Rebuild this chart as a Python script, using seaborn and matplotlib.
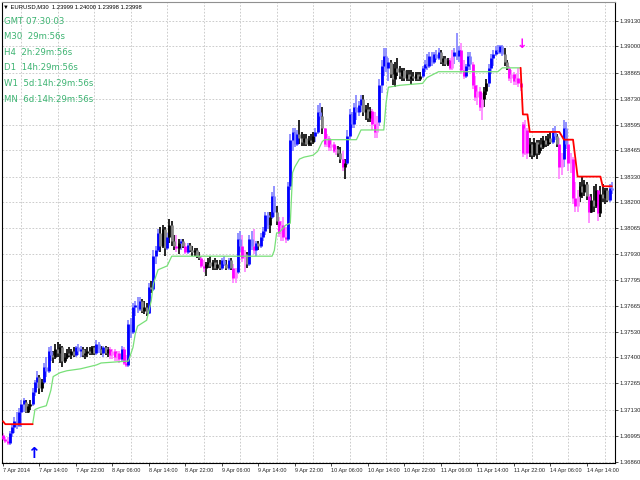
import numpy as np
import pandas as pd
import matplotlib
matplotlib.use("Agg")
import matplotlib.pyplot as plt
from matplotlib import font_manager as fm
import seaborn as sns

# EURUSD M30 bars, 7 Apr 2014 06:00 .. 14 Apr 19:30 (weekend bars skipped)
opens = [
    1.3700, 1.3698, 1.3697, 1.3696, 1.3701, 1.3704, 1.3707, 1.3705, 1.3712, 1.3716,
    1.3717, 1.3712, 1.3715, 1.3716, 1.3722, 1.3727, 1.3730, 1.3724, 1.3727, 1.3735,
    1.3733, 1.3743, 1.3741, 1.3740, 1.3744, 1.3742, 1.3745, 1.3738, 1.3740, 1.3742,
    1.3741, 1.3743, 1.3741, 1.3745, 1.3743, 1.3744, 1.3741, 1.3742, 1.3743, 1.3742,
    1.3745, 1.3742, 1.3747, 1.3744, 1.3742, 1.3745, 1.3742, 1.3744, 1.3741, 1.3743,
    1.3740, 1.3742, 1.3739, 1.3744, 1.3737, 1.3736, 1.3757, 1.3753, 1.3766, 1.3767,
    1.3765, 1.3769, 1.3764, 1.3766, 1.3763, 1.3776, 1.3775, 1.3792, 1.3795, 1.3804,
    1.3797, 1.3806, 1.3796, 1.3802, 1.3808, 1.3800, 1.3797, 1.3796, 1.3799, 1.3800,
    1.3797, 1.3794, 1.3798, 1.3795, 1.3794, 1.3795, 1.3792, 1.3791, 1.3787, 1.3786,
    1.3788, 1.3789, 1.3787, 1.3789, 1.3786, 1.3788, 1.3786, 1.3790, 1.3788, 1.3786,
    1.3790, 1.3786, 1.3781, 1.3784, 1.3801, 1.3797, 1.3791, 1.3793, 1.3788, 1.3801,
    1.3797, 1.3795, 1.3799, 1.3797, 1.3802, 1.3805, 1.3813, 1.3808, 1.3812, 1.3823,
    1.3815, 1.3810, 1.3804, 1.3808, 1.3802, 1.3801, 1.3828, 1.3852, 1.3856, 1.3850,
    1.3855, 1.3853, 1.3851, 1.3853, 1.3850, 1.3852, 1.3851, 1.3854, 1.3856, 1.3866,
    1.3864, 1.3858, 1.3850, 1.3853, 1.3848, 1.3850, 1.3846, 1.3847, 1.3845, 1.3842,
    1.3838, 1.3840, 1.3854, 1.3865, 1.3860, 1.3869, 1.3866, 1.3870, 1.3873, 1.3866,
    1.3868, 1.3863, 1.3867, 1.3860, 1.3856, 1.3861, 1.3880, 1.3890, 1.3895, 1.3889,
    1.3892, 1.3886, 1.3883, 1.3889, 1.3887, 1.3885, 1.3888, 1.3884, 1.3886, 1.3883,
    1.3885, 1.3884, 1.3886, 1.3883, 1.3885, 1.3889, 1.3891, 1.3890, 1.3895, 1.3892,
    1.3896, 1.3894, 1.3897, 1.3892, 1.3894, 1.3891, 1.3893, 1.3889, 1.3895, 1.3897,
    1.3895, 1.3898, 1.3888, 1.3885, 1.3890, 1.3895, 1.3891, 1.3880, 1.3874, 1.3877,
    1.3869, 1.3873, 1.3877, 1.3881, 1.3889, 1.3894, 1.3896, 1.3898, 1.3897, 1.3900,
    1.3896, 1.3892, 1.3889, 1.3884, 1.3886, 1.3882, 1.3884, 1.3881, 1.3860, 1.3845,
    1.3857, 1.3845, 1.3850, 1.3844, 1.3851, 1.3845, 1.3850, 1.3848, 1.3852, 1.3850,
    1.3853, 1.3851, 1.3856, 1.3854, 1.3850, 1.3838, 1.3842, 1.3858, 1.3850, 1.3840,
    1.3842, 1.3822, 1.3818, 1.3823, 1.3828, 1.3825, 1.3829, 1.3823, 1.3815, 1.3821,
    1.3818, 1.3826, 1.3814, 1.3824, 1.3822, 1.3826, 1.3821, 1.3827,
]
highs = [
    1.3701, 1.3699, 1.3699, 1.3702, 1.3705, 1.3709, 1.3712, 1.3714, 1.3718, 1.3719,
    1.3718, 1.3716, 1.3718, 1.3724, 1.3728, 1.3733, 1.3731, 1.3729, 1.3737, 1.3740,
    1.3745, 1.3746, 1.3743, 1.3747, 1.3748, 1.3747, 1.3746, 1.3742, 1.3744, 1.3745,
    1.3744, 1.3745, 1.3746, 1.3747, 1.3746, 1.3745, 1.3744, 1.3745, 1.3745, 1.3746,
    1.3746, 1.3749, 1.3748, 1.3746, 1.3746, 1.3746, 1.3745, 1.3745, 1.3744, 1.3744,
    1.3743, 1.3743, 1.3746, 1.3745, 1.3741, 1.3759, 1.3760, 1.3768, 1.3769, 1.3771,
    1.3771, 1.3770, 1.3769, 1.3768, 1.3778, 1.3779, 1.3795, 1.3797, 1.3806, 1.3807,
    1.3808, 1.3807, 1.3804, 1.3811, 1.3810, 1.3803, 1.3803, 1.3801, 1.3801, 1.3801,
    1.3799, 1.3799, 1.3799, 1.3797, 1.3796, 1.3796, 1.3794, 1.3792, 1.3790, 1.3789,
    1.3791, 1.3792, 1.3790, 1.3791, 1.3790, 1.3790, 1.3791, 1.3792, 1.3790, 1.3791,
    1.3791, 1.3788, 1.3786, 1.3804, 1.3805, 1.3803, 1.3795, 1.3794, 1.3803, 1.3805,
    1.3806, 1.3800, 1.3800, 1.3804, 1.3807, 1.3815, 1.3815, 1.3815, 1.3825, 1.3828,
    1.3818, 1.3812, 1.3810, 1.3812, 1.3807, 1.3830, 1.3855, 1.3858, 1.3858, 1.3857,
    1.3862, 1.3856, 1.3855, 1.3855, 1.3854, 1.3855, 1.3856, 1.3858, 1.3870, 1.3871,
    1.3869, 1.3858, 1.3855, 1.3854, 1.3852, 1.3851, 1.3849, 1.3849, 1.3848, 1.3846,
    1.3842, 1.3857, 1.3868, 1.3866, 1.3871, 1.3875, 1.3872, 1.3875, 1.3875, 1.3870,
    1.3871, 1.3869, 1.3868, 1.3866, 1.3864, 1.3883, 1.3893, 1.3899, 1.3899, 1.3894,
    1.3893, 1.3891, 1.3892, 1.3894, 1.3890, 1.3889, 1.3889, 1.3888, 1.3888, 1.3888,
    1.3887, 1.3887, 1.3887, 1.3887, 1.3890, 1.3893, 1.3896, 1.3897, 1.3897, 1.3897,
    1.3898, 1.3899, 1.3898, 1.3895, 1.3895, 1.3894, 1.3894, 1.3898, 1.3899, 1.3907,
    1.3900, 1.3902, 1.3893, 1.3891, 1.3897, 1.3897, 1.3892, 1.3885, 1.3880, 1.3879,
    1.3876, 1.3879, 1.3883, 1.3891, 1.3896, 1.3898, 1.3900, 1.3901, 1.3901, 1.3901,
    1.3899, 1.3893, 1.3890, 1.3888, 1.3887, 1.3886, 1.3889, 1.3883, 1.3861, 1.3862,
    1.3858, 1.3853, 1.3851, 1.3853, 1.3852, 1.3852, 1.3853, 1.3854, 1.3854, 1.3855,
    1.3856, 1.3858, 1.3859, 1.3855, 1.3853, 1.3845, 1.3862, 1.3861, 1.3852, 1.3845,
    1.3843, 1.3830, 1.3826, 1.3830, 1.3833, 1.3831, 1.3830, 1.3824, 1.3824, 1.3828,
    1.3829, 1.3826, 1.3828, 1.3829, 1.3827, 1.3827, 1.3829, 1.3830,
]
lows = [
    1.3697, 1.3696, 1.3695, 1.3695, 1.3699, 1.3701, 1.3703, 1.3704, 1.3704, 1.3712,
    1.3711, 1.3711, 1.3713, 1.3715, 1.3720, 1.3724, 1.3721, 1.3722, 1.3726, 1.3730,
    1.3732, 1.3738, 1.3737, 1.3739, 1.3740, 1.3737, 1.3735, 1.3737, 1.3739, 1.3740,
    1.3739, 1.3740, 1.3740, 1.3741, 1.3740, 1.3740, 1.3739, 1.3740, 1.3741, 1.3741,
    1.3741, 1.3741, 1.3742, 1.3741, 1.3740, 1.3741, 1.3740, 1.3739, 1.3739, 1.3738,
    1.3738, 1.3737, 1.3738, 1.3736, 1.3735, 1.3735, 1.3750, 1.3752, 1.3761, 1.3763,
    1.3764, 1.3763, 1.3762, 1.3761, 1.3762, 1.3773, 1.3774, 1.3788, 1.3794, 1.3794,
    1.3796, 1.3792, 1.3795, 1.3799, 1.3797, 1.3795, 1.3794, 1.3793, 1.3795, 1.3796,
    1.3793, 1.3793, 1.3794, 1.3792, 1.3792, 1.3791, 1.3790, 1.3786, 1.3784, 1.3782,
    1.3786, 1.3786, 1.3785, 1.3785, 1.3785, 1.3785, 1.3785, 1.3787, 1.3785, 1.3785,
    1.3785, 1.3778, 1.3778, 1.3783, 1.3794, 1.3789, 1.3784, 1.3786, 1.3787, 1.3795,
    1.3793, 1.3792, 1.3795, 1.3796, 1.3800, 1.3803, 1.3806, 1.3804, 1.3811, 1.3812,
    1.3808, 1.3802, 1.3800, 1.3800, 1.3799, 1.3800, 1.3826, 1.3846, 1.3848, 1.3849,
    1.3850, 1.3849, 1.3849, 1.3849, 1.3849, 1.3849, 1.3850, 1.3851, 1.3855, 1.3862,
    1.3855, 1.3848, 1.3848, 1.3846, 1.3846, 1.3845, 1.3844, 1.3843, 1.3840, 1.3836,
    1.3832, 1.3839, 1.3852, 1.3858, 1.3858, 1.3862, 1.3864, 1.3866, 1.3864, 1.3862,
    1.3861, 1.3861, 1.3857, 1.3853, 1.3853, 1.3859, 1.3876, 1.3885, 1.3887, 1.3882,
    1.3884, 1.3880, 1.3879, 1.3885, 1.3883, 1.3882, 1.3882, 1.3882, 1.3882, 1.3880,
    1.3882, 1.3882, 1.3882, 1.3882, 1.3884, 1.3887, 1.3888, 1.3889, 1.3890, 1.3891,
    1.3893, 1.3893, 1.3891, 1.3890, 1.3890, 1.3890, 1.3888, 1.3888, 1.3891, 1.3893,
    1.3892, 1.3886, 1.3883, 1.3884, 1.3888, 1.3888, 1.3878, 1.3872, 1.3870, 1.3867,
    1.3862, 1.3869, 1.3875, 1.3879, 1.3886, 1.3890, 1.3895, 1.3896, 1.3896, 1.3895,
    1.3890, 1.3888, 1.3882, 1.3881, 1.3880, 1.3880, 1.3879, 1.3877, 1.3843, 1.3844,
    1.3842, 1.3843, 1.3842, 1.3843, 1.3842, 1.3844, 1.3846, 1.3847, 1.3848, 1.3849,
    1.3850, 1.3850, 1.3852, 1.3848, 1.3832, 1.3834, 1.3838, 1.3847, 1.3836, 1.3835,
    1.3819, 1.3815, 1.3815, 1.3820, 1.3822, 1.3823, 1.3821, 1.3809, 1.3814, 1.3815,
    1.3817, 1.3810, 1.3812, 1.3820, 1.3819, 1.3820, 1.3820, 1.3824,
]
closes = [
    1.3698, 1.3697, 1.3696, 1.3701, 1.3704, 1.3707, 1.3705, 1.3712, 1.3716, 1.3718,
    1.3712, 1.3715, 1.3716, 1.3722, 1.3727, 1.3730, 1.3724, 1.3727, 1.3735, 1.3733,
    1.3743, 1.3741, 1.3740, 1.3744, 1.3742, 1.3745, 1.3738, 1.3740, 1.3742, 1.3741,
    1.3743, 1.3741, 1.3745, 1.3743, 1.3744, 1.3741, 1.3742, 1.3743, 1.3742, 1.3745,
    1.3742, 1.3747, 1.3744, 1.3742, 1.3745, 1.3742, 1.3744, 1.3741, 1.3743, 1.3740,
    1.3742, 1.3739, 1.3744, 1.3737, 1.3736, 1.3757, 1.3753, 1.3766, 1.3767, 1.3765,
    1.3769, 1.3764, 1.3766, 1.3763, 1.3776, 1.3775, 1.3792, 1.3795, 1.3804, 1.3797,
    1.3806, 1.3796, 1.3802, 1.3808, 1.3800, 1.3797, 1.3796, 1.3799, 1.3800, 1.3797,
    1.3794, 1.3798, 1.3795, 1.3794, 1.3795, 1.3792, 1.3791, 1.3787, 1.3786, 1.3788,
    1.3789, 1.3787, 1.3789, 1.3786, 1.3788, 1.3786, 1.3790, 1.3788, 1.3786, 1.3790,
    1.3786, 1.3781, 1.3784, 1.3801, 1.3797, 1.3791, 1.3793, 1.3788, 1.3801, 1.3797,
    1.3795, 1.3799, 1.3797, 1.3802, 1.3805, 1.3813, 1.3808, 1.3812, 1.3823, 1.3815,
    1.3810, 1.3804, 1.3808, 1.3802, 1.3801, 1.3828, 1.3852, 1.3856, 1.3850, 1.3855,
    1.3853, 1.3851, 1.3853, 1.3850, 1.3852, 1.3851, 1.3854, 1.3856, 1.3866, 1.3864,
    1.3858, 1.3850, 1.3853, 1.3848, 1.3850, 1.3846, 1.3847, 1.3845, 1.3842, 1.3838,
    1.3840, 1.3854, 1.3865, 1.3860, 1.3869, 1.3866, 1.3870, 1.3873, 1.3866, 1.3868,
    1.3863, 1.3867, 1.3860, 1.3856, 1.3861, 1.3880, 1.3890, 1.3895, 1.3889, 1.3892,
    1.3886, 1.3883, 1.3889, 1.3887, 1.3885, 1.3888, 1.3884, 1.3886, 1.3883, 1.3885,
    1.3884, 1.3886, 1.3883, 1.3885, 1.3889, 1.3891, 1.3890, 1.3895, 1.3892, 1.3896,
    1.3894, 1.3897, 1.3892, 1.3894, 1.3891, 1.3893, 1.3889, 1.3895, 1.3897, 1.3895,
    1.3898, 1.3888, 1.3885, 1.3890, 1.3895, 1.3891, 1.3880, 1.3874, 1.3877, 1.3869,
    1.3873, 1.3877, 1.3881, 1.3889, 1.3894, 1.3896, 1.3898, 1.3897, 1.3900, 1.3896,
    1.3892, 1.3889, 1.3884, 1.3886, 1.3882, 1.3884, 1.3881, 1.3879, 1.3845, 1.3858,
    1.3845, 1.3850, 1.3844, 1.3851, 1.3845, 1.3850, 1.3848, 1.3852, 1.3850, 1.3853,
    1.3851, 1.3856, 1.3854, 1.3850, 1.3838, 1.3842, 1.3858, 1.3850, 1.3840, 1.3842,
    1.3822, 1.3818, 1.3823, 1.3828, 1.3825, 1.3829, 1.3823, 1.3815, 1.3821, 1.3818,
    1.3826, 1.3814, 1.3824, 1.3822, 1.3826, 1.3821, 1.3827, 1.3826,
]
# bar colour state of the indicator: u = blue, d = magenta, n = black
trend = (
    "ddd" "uuuuuuu" "nnn" "uuu" "nn" "uuuu" "nnnnnnnnnn" "uuu" "nnnnnn" "uu"
    "n" "u" "nn" "ddddd" "u" "dd" "uuuuuu" "nnn" "u" "n" "uuu" "nnn" "u" "nnn"
    "d" "n" "u" "n" "d" "u" "nnnnn" "dd" "nnnnnnn" "uu" "n" "u" "n" "dd" "uu"
    "dd" "n" "uu" "d" "u" "n" "uuuu" "n" "uu" "n" "dddd" "uuuuu" "nnnnnnn"
    "uuu" "n" "dddddd" "nn" "d" "n" "uuuuuuu" "nnnn" "ddd" "uuuuu"
    "nnnnnnnnnnnnnn" "uuuuuuuu" "nnnn" "dd" "uuu" "dd" "uuu" "ddddd" "nn"
    "uuuuuuu" "nn" "ddddddd" "dd" "nnnnnnnnnn" "uu" "n" "dd" "uu" "ddddd"
    "nnnn" "d" "nnn" "d" "nnnn" "uu"
)

# trailing stop lines: (bar index, price)
green_idx = [13, 14, 16, 19, 21, 22, 25, 28, 34, 41, 43, 55, 57, 58, 59, 63, 65, 66, 68,
             72, 74, 118, 119, 120, 121, 124, 126, 127, 128, 130, 132, 136, 138, 140,
             141, 155, 157, 167, 168, 169, 174, 184, 186, 191, 197, 217, 219, 227]
green_px = [1.37055, 1.3713, 1.3714, 1.3715, 1.3723, 1.3730, 1.3732, 1.3733, 1.3734,
            1.3736, 1.3737, 1.3738, 1.3745, 1.3752, 1.3756, 1.3759, 1.3769, 1.3778,
            1.3785, 1.3787, 1.3792, 1.3792, 1.3795, 1.3804, 1.3804, 1.3808, 1.3809,
            1.3835, 1.3838, 1.3842, 1.3843, 1.3844, 1.3846, 1.3851, 1.3852, 1.3852,
            1.3857, 1.3857, 1.3871, 1.3879, 1.3880, 1.3881, 1.3884, 1.3887, 1.3887,
            1.3887, 1.3889, 1.3889]
red1_idx = [0, 1, 13]
red1_px = [1.3707, 1.37055, 1.37055]
red2_idx = [227, 228, 230, 231, 244, 246, 250, 252, 262, 263, 267]
red2_px = [1.3889, 1.3865, 1.3865, 1.3856, 1.3856, 1.3852, 1.3852, 1.3833, 1.3833,
           1.3828, 1.3828]

# signal arrows
buy_idx, buy_px = [13.5], [1.36906]
sell_idx, sell_px = [227.6], [1.3901]

time_labels = ["7 Apr 2014", "7 Apr 14:00", "7 Apr 22:00", "8 Apr 06:00", "8 Apr 14:00",
               "8 Apr 22:00", "9 Apr 06:00", "9 Apr 14:00", "9 Apr 22:00", "10 Apr 06:00",
               "10 Apr 14:00", "10 Apr 22:00", "11 Apr 06:00", "11 Apr 14:00",
               "11 Apr 22:00", "14 Apr 06:00", "14 Apr 14:00"]
price_ticks = [1.39130, 1.39000, 1.38865, 1.38730, 1.38595, 1.38465, 1.38330, 1.38200,
               1.38065, 1.37930, 1.37795, 1.37665, 1.37530, 1.37400, 1.37265, 1.37130,
               1.36995, 1.36860]

timer_lines = ["GMT 07:30:03", "M30  29m:56s", "H4  2h:29m:56s", "D1  14h:29m:56s",
               "W1  5d:14h:29m:56s", "MN  6d:14h:29m:56s"]
header = "\u25bc EURUSD,M30  1.23999 1.24000 1.23998 1.23998"

sns.set_theme(style="white")
plt.rcParams['font.family'] = ['Liberation Sans', 'DejaVu Sans']

# the timer text is in a narrow face; take the narrowest one on the system
font_files = {f.fname.split("/")[-1]: f.fname for f in fm.fontManager.ttflist}
if "LiberationSansNarrow-Regular.ttf" in font_files:
    timer_font = fm.FontProperties(fname=font_files["LiberationSansNarrow-Regular.ttf"], size=7.7)
elif "DejaVuSansCondensed.ttf" in font_files:
    timer_font = fm.FontProperties(fname=font_files["DejaVuSansCondensed.ttf"], size=6.8)
else:
    timer_font = fm.FontProperties(family="Liberation Sans", size=6.6)

df = pd.DataFrame({"o": opens, "h": highs, "l": lows, "c": closes, "t": list(trend)})
df["i"] = np.arange(len(df))
bull = df["c"] >= df["o"]
agree = ((df["t"] == "u") & bull) | ((df["t"] == "d") & ~bull) | ((df["t"] == "n") & bull)
dark = {"u": "#0000ff", "d": "#ff00ff", "n": "#000000"}
light = {"u": "#8080ff", "d": "#ff80ff", "n": "#888888"}
body_col = [dark[t] if a else light[t] for t, a in zip(df["t"], agree)]
wick_col = [dark[t] if t == "n" else light[t] for t in df["t"]]

fig = plt.figure(figsize=(6.4, 4.8), dpi=100)
ax = fig.add_axes([2 / 640, 17 / 480, 613 / 640, 461 / 480])
ax.set_facecolor("white")

# grid
for yv in price_ticks:
    ax.axhline(yv, color="#c4c4c4", lw=0.6, ls=(0, (2, 2)), zorder=0)
for xv in range(8, len(df), 16):
    ax.axvline(xv, color="#c4c4c4", lw=0.6, ls=(0, (2, 2)), zorder=0)

# bars
ax.vlines(df["i"], df["l"], df["h"], colors=wick_col, lw=1.2, zorder=2)
ax.vlines(df["i"], df["o"], df["c"], colors=body_col, lw=2.0, zorder=3)

# trailing stops
sns.lineplot(x=green_idx, y=green_px, color="#78e078", lw=0.9, ax=ax, estimator=None, zorder=4)
sns.lineplot(x=red1_idx, y=red1_px, color="#ff0000", lw=1.3, ax=ax, estimator=None, zorder=4)
sns.lineplot(x=red2_idx, y=red2_px, color="#ff0000", lw=1.3, ax=ax, estimator=None, zorder=4)

for xv, yv in zip(buy_idx, buy_px):
    ax.text(xv, yv, "\u2191", color="#0000ff", fontsize=11, fontweight="bold",
            ha="center", va="center", family="DejaVu Sans", zorder=5)
for xv, yv in zip(sell_idx, sell_px):
    ax.text(xv, yv, "\u2193", color="#ff00ff", fontsize=9, fontweight="bold",
            ha="center", va="center", family="DejaVu Sans", zorder=5)

ax.set_xlim(-0.44, 268.4)
ax.set_ylim(1.36855, 1.39229)
ax.set_xticks(range(0, 16 * len(time_labels), 16))
ax.set_xticklabels(time_labels, fontsize=4.0, ha="left")
ax.yaxis.tick_right()
ax.set_yticks(price_ticks)
ax.set_yticklabels([f"{v:.5f}" for v in price_ticks], fontsize=4.2)
ax.tick_params(axis="both", length=2, width=0.5, color="black", pad=1.5, direction="out")
ax.tick_params(axis="x", bottom=True)
ax.tick_params(axis="y", right=True, left=False)
ax.set_xlabel("")
ax.set_ylabel("")
for s in ax.spines.values():
    s.set_color("#000000")
    s.set_linewidth(0.8)
ax.spines["top"].set_color("#909090")

fig.text(3 / 640, 1 - 7 / 480, header, fontsize=4.2, va="center", ha="left", color="black")
for k, line in enumerate(timer_lines):
    fig.text(4 / 640, 1 - (21 + 15.6 * k) / 480, line, va="center", ha="left",
             color="#3cb371", fontproperties=timer_font)

fig.savefig("out.png", dpi=100)
